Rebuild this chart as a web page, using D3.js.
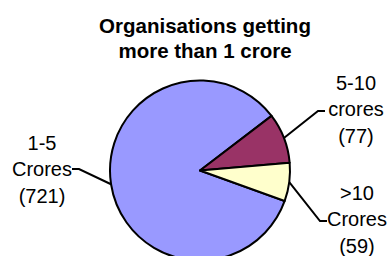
<!DOCTYPE html>
<html>
<head>
<meta charset="utf-8">
<script src="https://cdn.jsdelivr.net/npm/d3@7"></script>
<style>
  body { margin: 0; background: #fff; }
  svg { display: block; font-family: Arial, "Liberation Sans", sans-serif; }
</style>
</head>
<body>
<svg id="chart" width="388" height="256"></svg>
<script>
const categories = ['1-5', '5-10', '>10'];
const unitWords = ['Crores', 'crores', 'Crores'];
const counts = [721, 77, 59];
const colors = ['#9999ff', '#993366', '#ffffcc'];
const titleLines = ['Organisations getting', 'more than 1 crore'];

const svg = d3.select('#chart');
const cx = 200, cy = 170.5, radius = 90;

// label blocks: centre x, baseline of the middle line
const labelPos = [[42, 176], [356, 116], [357, 226]];
// where each leader line bends before its short horizontal tick
const elbow = [[79, 169], [318, 111], [320, 221]];
const lineGap = 26.5;

svg.append('g')
    .selectAll('text')
    .data(titleLines)
    .enter()
    .append('text')
    .attr('x', 205)
    .attr('y', (d, i) => 33 + i * 25)
    .attr('text-anchor', 'middle')
    .style('font-weight', 'bold')
    .style('font-size', '20.5px')
    .text(d => d);

const total = d3.sum(counts);
// first slice starts so that the 5-10 wedge ends just above 3 o'clock
const start = (85 + (counts[2] / total) * 360) * Math.PI / 180;

const pie = d3.pie().sort(null).startAngle(start).endAngle(start + 2 * Math.PI);
const arcs = pie(counts);
const arc = d3.arc().innerRadius(0).outerRadius(radius);

const g = svg.append('g').attr('transform', `translate(${cx},${cy})`);

g.selectAll('path')
    .data(arcs)
    .enter()
    .append('path')
    .attr('d', arc)
    .style('fill', (d, i) => colors[i])
    .style('stroke', '#000')
    .style('stroke-width', 2)
    .style('stroke-linejoin', 'round');

const edgePoint = (d) => {
    const a = (d.startAngle + d.endAngle) / 2;
    return [cx + radius * Math.sin(a), cy - radius * Math.cos(a)];
};

svg.selectAll('polyline.leader')
    .data(arcs)
    .enter()
    .append('polyline')
    .attr('class', 'leader')
    .attr('points', (d, i) => {
        const p = edgePoint(d);
        const e = elbow[i];
        const side = e[0] < cx ? -1 : 1;
        return [p, e, [e[0] + side * 7, e[1]]].map(q => q.join(',')).join(' ');
    })
    .style('fill', 'none')
    .style('stroke', '#000')
    .style('stroke-width', 2);

const labels = svg.selectAll('text.lbl')
    .data(arcs)
    .enter()
    .append('text')
    .attr('class', 'lbl')
    .attr('text-anchor', 'middle')
    .style('font-size', '20px');

labels.each(function (d, i) {
    const t = d3.select(this);
    const lines = [categories[i], unitWords[i], '(' + counts[i] + ')'];
    lines.forEach((s, k) => {
        t.append('tspan')
            .attr('x', labelPos[i][0])
            .attr('y', labelPos[i][1] + (k - 1) * lineGap)
            .text(s);
    });
});
</script>
</body>
</html>
